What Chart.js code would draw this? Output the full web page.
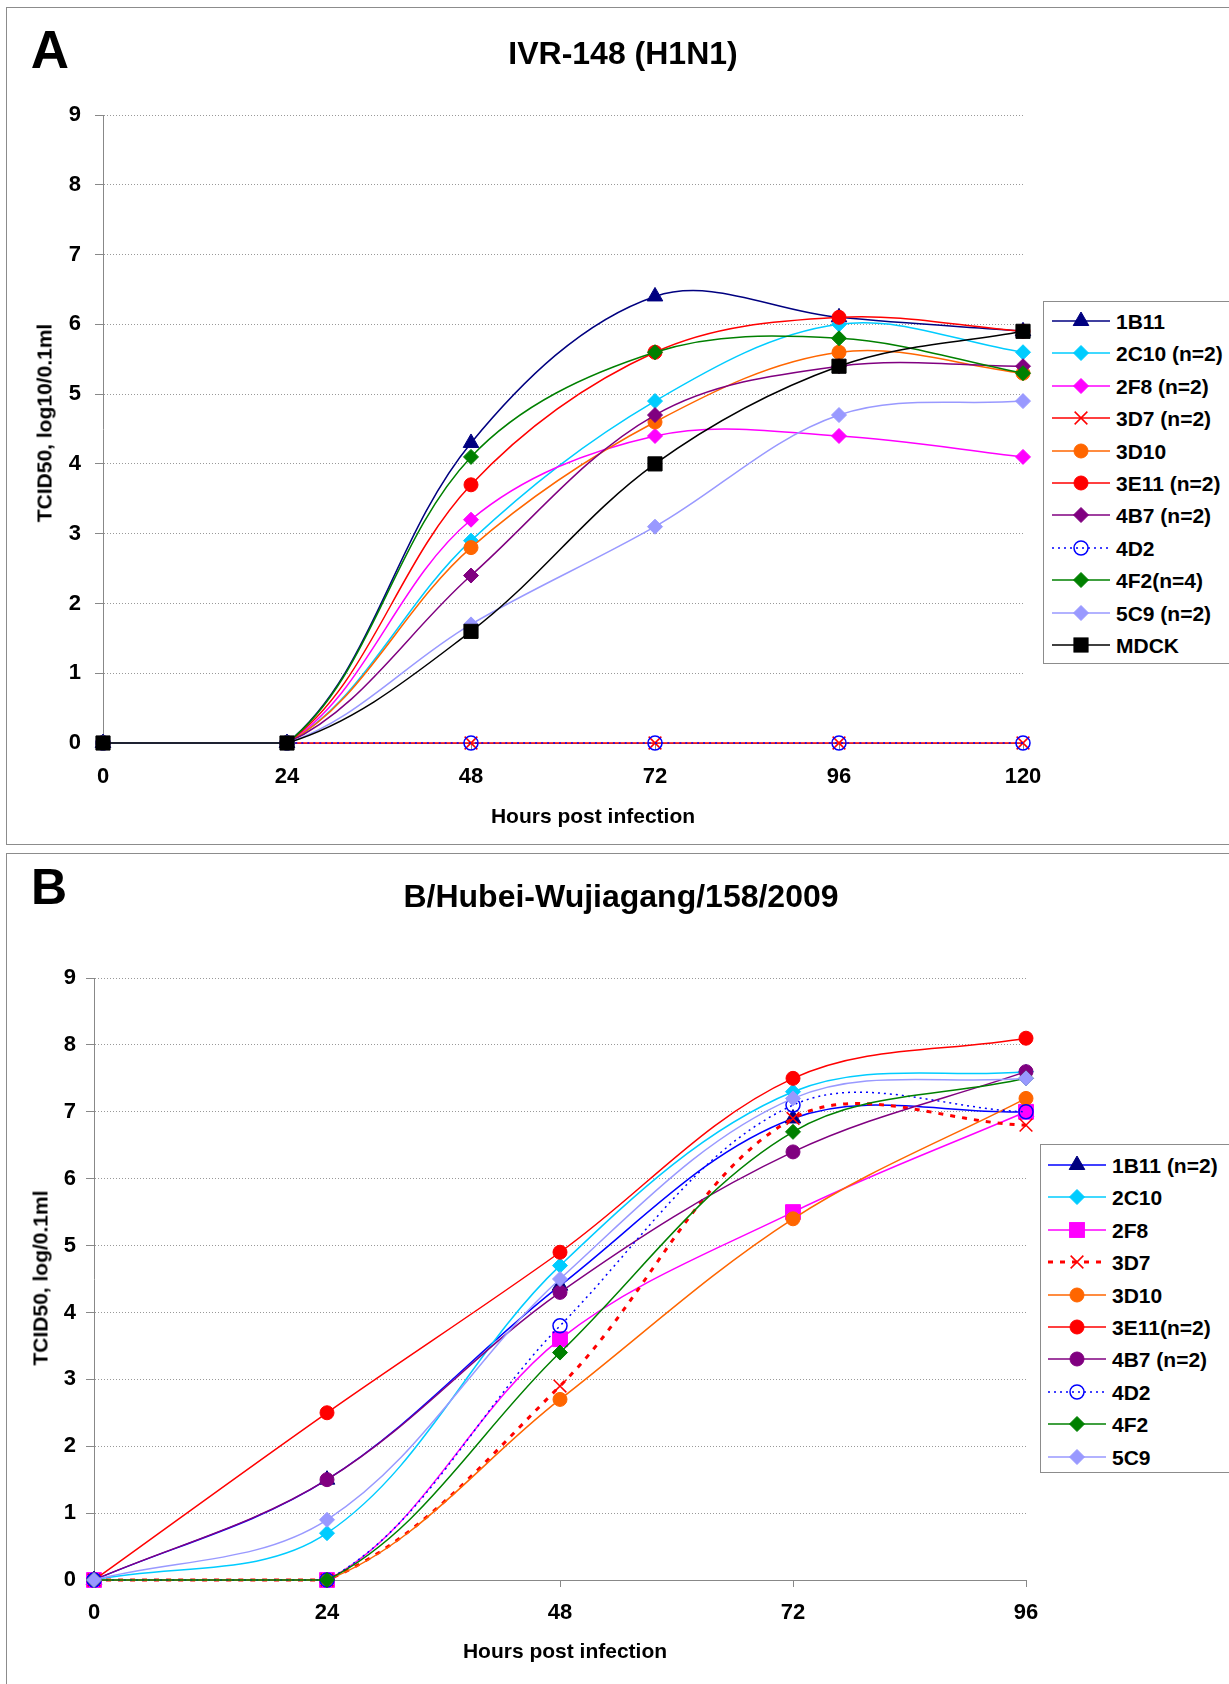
<!DOCTYPE html>
<html>
<head>
<meta charset="utf-8">
<title>TCID50 growth curves</title>
<script src="https://cdn.jsdelivr.net/npm/chart.js@4.4.0/dist/chart.umd.min.js"></script>
<style>
  html, body { margin: 0; padding: 0; background: #fff; }
  body {
    width: 1229px; height: 1684px; position: relative; overflow: hidden;
    font-family: "Liberation Sans", Arial, sans-serif; font-weight: bold; color: #000;
  }
  .panel { position: absolute; box-sizing: border-box; border: 1px solid #8c8c8c; background: #fff; }
  .txt { position: absolute; white-space: nowrap; line-height: 1; transform: translate(-50%, -50%); }
  .rot { transform: translate(-50%, -50%) rotate(-90deg); }
  canvas { position: absolute; left: 0; }
  .legend { position: absolute; box-sizing: border-box; border: 1px solid #8c8c8c; background: #fff; width: 260px; }
  .legend svg { position: absolute; overflow: visible; }
  .legend span { position: absolute; white-space: nowrap; line-height: 1; font-size: 21px; transform: translateY(-50%); }
</style>
</head>
<body>

<div class="panel" style="left:6px; top:7px; width:1300px; height:838px"></div>
<div class="panel" style="left:6px; top:853px; width:1300px; height:900px"></div>

<canvas id="chartA" width="1229" height="850" style="top:0"></canvas>
<canvas id="chartB" width="1229" height="834" style="top:850px"></canvas>

<div class="txt" style="left:50px; top:49px; font-size:53px">A</div>
<div class="txt" style="left:623px; top:53px; font-size:32px">IVR-148 (H1N1)</div>
<div class="txt rot" style="left:44px; top:423px; font-size:21px">TCID50, log10/0.1ml</div>
<div class="txt" style="left:593px; top:815px; font-size:21px">Hours post infection</div>

<div class="txt" style="left:49px; top:887px; font-size:50px">B</div>
<div class="txt" style="left:621px; top:896px; font-size:32px">B/Hubei-Wujiagang/158/2009</div>
<div class="txt rot" style="left:40px; top:1278px; font-size:21px">TCID50, log/0.1ml</div>
<div class="txt" style="left:565px; top:1650px; font-size:21px">Hours post infection</div>

<div class="legend" id="legendA" style="left:1043px; top:301px; height:363px"></div>
<div class="legend" id="legendB" style="left:1040px; top:1144px; height:329px"></div>

<script>
// ---- panel A : IVR-148 (H1N1) ----
const hoursA = [0, 24, 48, 72, 96, 120];
const namesA = ["1B11", "2C10 (n=2)", "2F8 (n=2)", "3D7 (n=2)", "3D10", "3E11 (n=2)",
                "4B7 (n=2)", "4D2", "4F2(n=4)", "5C9 (n=2)", "MDCK"];
const a_1B11 = [0, 0, 4.3, 6.4, 6.1, 5.9];
const a_2C10 = [0, 0, 2.9, 4.9, 6.0, 5.6];
const a_2F8  = [0, 0, 3.2, 4.4, 4.4, 4.1];
const a_3D7  = [0, 0, 0, 0, 0, 0];
const a_3D10 = [0, 0, 2.8, 4.6, 5.6, 5.3];
const a_3E11 = [0, 0, 3.7, 5.6, 6.1, 5.9];
const a_4B7  = [0, 0, 2.4, 4.7, 5.4, 5.4];
const a_4D2  = [0, 0, 0, 0, 0, 0];
const a_4F2  = [0, 0, 4.1, 5.6, 5.8, 5.3];
const a_5C9  = [0, 0, 1.7, 3.1, 4.7, 4.9];
const a_MDCK = [0, 0, 1.6, 4.0, 5.4, 5.9];

// ---- panel B : B/Hubei-Wujiagang/158/2009 ----
const hoursB = [0, 24, 48, 72, 96];
const namesB = ["1B11 (n=2)", "2C10", "2F8", "3D7", "3D10", "3E11(n=2)",
                "4B7 (n=2)", "4D2", "4F2", "5C9"];
const b_1B11 = [0, 1.5, 4.4, 6.9, 7.0];
const b_2C10 = [0, 0.7, 4.7, 7.3, 7.6];
const b_2F8  = [0, 0, 3.6, 5.5, 7.0];
const b_3D7  = [0, 0, 2.9, 6.9, 6.8];
const b_3D10 = [0, 0, 2.7, 5.4, 7.2];
const b_3E11 = [0, 2.5, 4.9, 7.5, 8.1];
const b_4B7  = [0, 1.5, 4.3, 6.4, 7.6];
const b_4D2  = [0, 0, 3.8, 7.1, 7.0];
const b_4F2  = [0, 0, 3.4, 6.7, 7.5];
const b_5C9  = [0, 0.9, 4.5, 7.2, 7.5];

const yTicks = [0, 1, 2, 3, 4, 5, 6, 7, 8, 9];

const valuesA = [a_1B11, a_2C10, a_2F8, a_3D7, a_3D10, a_3E11, a_4B7, a_4D2, a_4F2, a_5C9, a_MDCK];
const valuesB = [b_1B11, b_2C10, b_2F8, b_3D7, b_3D10, b_3E11, b_4B7, b_4D2, b_4F2, b_5C9];

// marker / line styles (Excel-like)
const stylesA = [
  { line: "#000080", point: "#000080", fill: "#000080", shape: "triangle", r: 9 },
  { line: "#00CCFF", point: "#00CCFF", fill: "#00CCFF", shape: "rectRot", r: 7.5 },
  { line: "#FF00FF", point: "#FF00FF", fill: "#FF00FF", shape: "rectRot", r: 7.5 },
  { line: "#FF0000", point: "#FF0000", fill: "#FF0000", shape: "crossRot", r: 9, pw: 1.5 },
  { line: "#FF6600", point: "#FF6600", fill: "#FF6600", shape: "circle", r: 7 },
  { line: "#FF0000", point: "#FF0000", fill: "#FF0000", shape: "circle", r: 7 },
  { line: "#800080", point: "#800080", fill: "#800080", shape: "rectRot", r: 7.5 },
  { line: "#0000FF", point: "#0000FF", fill: "rgba(0,0,0,0)", shape: "circle", r: 7, pw: 1.5, dash: [2, 4] },
  { line: "#008000", point: "#008000", fill: "#008000", shape: "rectRot", r: 7.5 },
  { line: "#9999FF", point: "#9999FF", fill: "#9999FF", shape: "rectRot", r: 7.5 },
  { line: "#000000", point: "#000000", fill: "#000000", shape: "rect", r: 10 }
];
const stylesB = [
  { line: "#0000FF", point: "#000080", fill: "#000080", shape: "triangle", r: 9 },
  { line: "#00CCFF", point: "#00CCFF", fill: "#00CCFF", shape: "rectRot", r: 7.5 },
  { line: "#FF00FF", point: "#FF00FF", fill: "#FF00FF", shape: "rect", r: 10.5 },
  { line: "#FF0000", point: "#FF0000", fill: "#FF0000", shape: "crossRot", r: 9, pw: 1.5, width: 3, dash: [5, 7] },
  { line: "#FF6600", point: "#FF6600", fill: "#FF6600", shape: "circle", r: 7 },
  { line: "#FF0000", point: "#FF0000", fill: "#FF0000", shape: "circle", r: 7 },
  { line: "#800080", point: "#800080", fill: "#800080", shape: "circle", r: 7 },
  { line: "#0000FF", point: "#0000FF", fill: "rgba(0,0,0,0)", shape: "circle", r: 7, pw: 1.5, dash: [2, 4] },
  { line: "#008000", point: "#008000", fill: "#008000", shape: "rectRot", r: 7.5 },
  { line: "#9999FF", point: "#9999FF", fill: "#9999FF", shape: "rectRot", r: 7.5 }
];

const FONT = '"Liberation Sans", Arial, sans-serif';
Chart.defaults.font.family = FONT;

function makeChart(id, hours, names, values, styles, lay) {
  const datasets = names.map((name, i) => {
    const st = styles[i];
    return {
      label: name,
      data: hours.map((h, k) => ({ x: h, y: values[i][k] })),
      borderColor: st.line,
      borderWidth: st.width || 1.5,
      borderDash: st.dash || [],
      pointStyle: st.shape,
      pointRadius: st.r,
      pointBorderColor: st.point,
      pointBackgroundColor: st.fill,
      pointBorderWidth: st.pw || 1,
      tension: 0.35,
      clip: 20,
      order: names.length - i // later series on top, like Excel
    };
  });

  return new Chart(document.getElementById(id), {
    type: "line",
    data: { datasets: datasets },
    options: {
      responsive: false,
      animation: false,
      events: [],
      layout: { padding: lay.padding },
      plugins: { legend: { display: false }, title: { display: false }, tooltip: { enabled: false } },
      scales: {
        x: {
          type: "linear",
          min: hours[0],
          max: hours[hours.length - 1],
          afterBuildTicks: (s) => { s.ticks = hours.map((v) => ({ value: v })); },
          afterFit: (s) => { s.height = 60; },
          grid: { drawOnChartArea: false, drawTicks: true, tickLength: 7, color: "#888", tickColor: "#888" },
          border: { color: "#888", width: 1 },
          ticks: { padding: lay.xPad, color: "#000", maxRotation: 0, autoSkip: false,
                   font: { size: 22, weight: "bold" } }
        },
        y: {
          min: 0,
          max: 9,
          afterBuildTicks: (s) => { s.ticks = yTicks.map((v) => ({ value: v })); },
          afterFit: (s) => { s.width = 60; },
          grid: { color: "#999", lineWidth: 1, tickLength: 8, tickColor: "#888" },
          border: { color: "#888", width: 1, dash: [1, 2] },
          ticks: { padding: lay.yPad, color: "#000", font: { size: 22, weight: "bold" } }
        }
      }
    }
  });
}

// chart area A: left 103, top 115, right 1023, bottom 743
makeChart("chartA", hoursA, namesA, valuesA, stylesA,
  { padding: { left: 43, top: 115, right: 206, bottom: 47 }, xPad: 14, yPad: 14 });
// chart area B: left 94, top 978, right 1026, bottom 1580
makeChart("chartB", hoursB, namesB, valuesB, stylesB,
  { padding: { left: 34, top: 128, right: 203, bottom: 44 }, xPad: 13, yPad: 10 });

// ---- HTML legends with line + marker samples ----
function markerSvg(st, cx, cy) {
  const r = st.r, sw = st.pw || 1;
  const paint = `fill="${st.fill}" stroke="${st.point}" stroke-width="${sw}"`;
  if (st.shape === "circle") return `<circle cx="${cx}" cy="${cy}" r="${r}" ${paint}/>`;
  if (st.shape === "rect") {
    const h = r * Math.SQRT1_2;
    return `<rect x="${cx - h}" y="${cy - h}" width="${2 * h}" height="${2 * h}" ${paint}/>`;
  }
  if (st.shape === "rectRot") {
    return `<polygon points="${cx - r},${cy} ${cx},${cy - r} ${cx + r},${cy} ${cx},${cy + r}" ${paint}/>`;
  }
  if (st.shape === "triangle") {
    const dx = r * 0.866, dy = r * 0.5;
    return `<polygon points="${cx},${cy - r} ${cx + dx},${cy + dy} ${cx - dx},${cy + dy}" ${paint}/>`;
  }
  const h = r * Math.SQRT1_2; // crossRot
  return `<path d="M${cx - h},${cy - h}L${cx + h},${cy + h}M${cx + h},${cy - h}L${cx - h},${cy + h}" fill="none" stroke="${st.point}" stroke-width="${sw}"/>`;
}

function buildLegend(elId, names, styles, firstY, step, lineX, textX) {
  const el = document.getElementById(elId);
  let html = "";
  names.forEach((name, i) => {
    const st = styles[i];
    const cy = firstY + i * step;
    const dash = st.dash ? ` stroke-dasharray="${st.dash.join(",")}"` : "";
    html += `<svg style="left:${lineX}px; top:${cy - 12}px" width="58" height="24">` +
      `<line x1="0" y1="12" x2="58" y2="12" stroke="${st.line}" stroke-width="${st.width || 1.5}"${dash}/>` +
      markerSvg(st, 29, 12) + `</svg>`;
    html += `<span style="left:${textX}px; top:${cy}px">${name}</span>`;
  });
  el.innerHTML = html;
}

buildLegend("legendA", namesA, stylesA, 19, 32.4, 8, 72);
buildLegend("legendB", namesB, stylesB, 20, 32.4, 7, 71);
</script>
</body>
</html>
